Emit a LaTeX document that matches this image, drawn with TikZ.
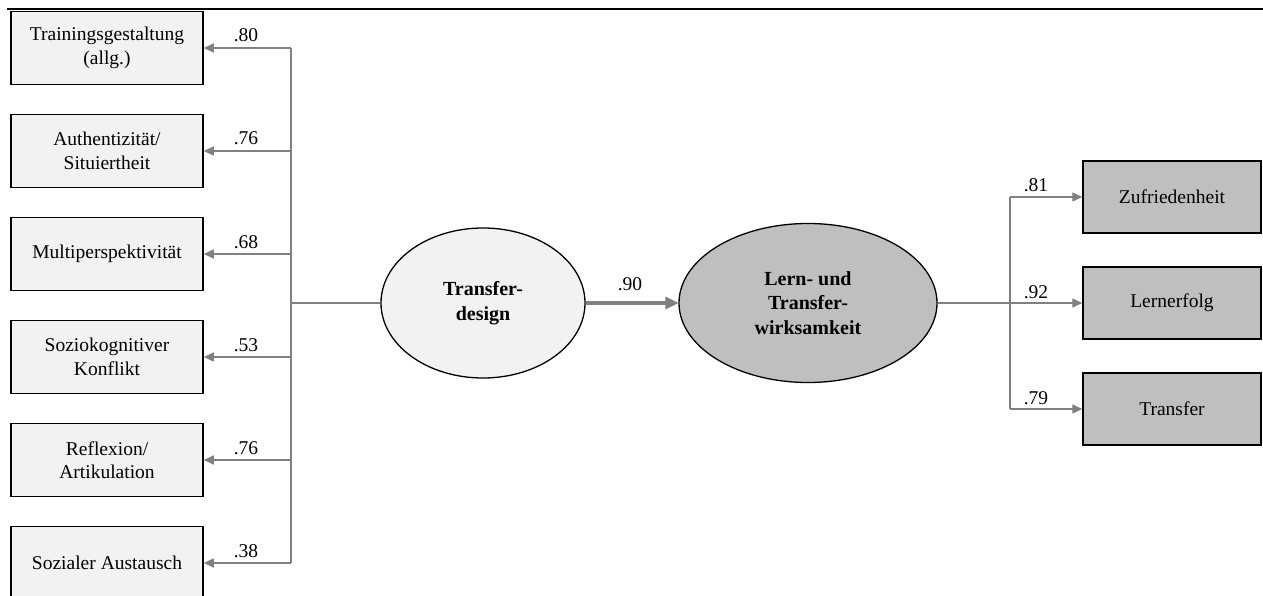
\documentclass[tikz,border=0pt]{standalone}
\usepackage{fontspec}
\setmainfont{Liberation Serif}
\usetikzlibrary{shapes.geometric,arrows.meta}
\definecolor{lightbox}{HTML}{F2F2F2}
\definecolor{darkbox}{HTML}{BFBFBF}
\definecolor{linkgray}{HTML}{808080}
\begin{document}
\begin{tikzpicture}[x=1pt,y=-1pt,
  txt/.style={font=\fontsize{19.5}{23.5}\selectfont},
  indicator/.style={txt,draw=black,line width=1.5pt,rectangle,align=center,inner sep=0pt},
  leftbox/.style={indicator,fill=lightbox,minimum width=192,minimum height=73},
  rightbox/.style={indicator,fill=darkbox,minimum width=178,minimum height=72},
  latent/.style={ellipse,draw=black,line width=1.3pt,align=center,inner sep=0pt,
    font=\fontsize{20}{24.5}\selectfont\bfseries},
  link/.style={draw=linkgray,line width=1.4pt},
  arr/.style={link,-{Triangle[length=10pt,width=9pt]}},
  pathline/.style={draw=linkgray,line width=4pt},
  coef/.style={txt,anchor=base,inner sep=0pt}
]
\useasboundingbox (0,0) rectangle (1263,596);

% top rule
\coordinate (ruleL) at (7,9);
\coordinate (ruleR) at (1263,9);
\draw[line width=2.4pt] (ruleL) -- (ruleR);

% indicators of the transfer design
\node[leftbox] (b1) at (107,48)  {Trainingsgestaltung\\(allg.)};
\node[leftbox] (b2) at (107,151) {Authentizität/\\Situiertheit};
\node[leftbox] (b3) at (107,254) {Multiperspektivität};
\node[leftbox] (b4) at (107,357) {Soziokognitiver\\Konflikt};
\node[leftbox] (b5) at (107,460) {Reflexion/\\Artikulation};
\node[leftbox] (b6) at (107,563) {Sozialer Austausch};

% latent variables
\node[latent,fill=lightbox,minimum width=204,minimum height=150] (td) at (483,303) {Transfer-\\design};
\node[latent,fill=darkbox,minimum width=258,minimum height=159] (lt) at (808,303) {Lern- und\\Transfer-\\wirksamkeit};

% outcome indicators
\node[rightbox] (r1) at (1172,197) {Zufriedenheit};
\node[rightbox] (r2) at (1172,303) {Lernerfolg};
\node[rightbox] (r3) at (1172,409) {Transfer};

% left spine
\coordinate (s1) at (291,48);
\coordinate (s2) at (291,151);
\coordinate (s3) at (291,254);
\coordinate (s4) at (291,357);
\coordinate (s5) at (291,460);
\coordinate (s6) at (291,563);
\coordinate (sj) at (291,303);
\draw[link] (s1) -- (s6);
\draw[link] (sj) -- (td.west);
\foreach \i in {1,...,6} \draw[arr] (s\i) -- (b\i.east);

% structural path with its wide head
\draw[pathline] (td.east) -- ([xshift=-12pt]lt.west);
\fill[linkgray] (lt.west) -- ++(-13,-6.5) -- ++(0,13) -- cycle;

% right spine
\coordinate (t1) at (1010,197);
\coordinate (t2) at (1010,303);
\coordinate (t3) at (1010,409);
\draw[link] (t1) -- (t3);
\draw[link] (lt.east) -- (t2);
\foreach \i in {1,2,3} \draw[arr] (t\i) -- (r\i.west);

% loadings
\node[coef] at (246,42)  {.80};
\node[coef] at (246,145) {.76};
\node[coef] at (246,248) {.68};
\node[coef] at (246,351) {.53};
\node[coef] at (246,454) {.76};
\node[coef] at (246,557) {.38};
\node[coef] at (630,290) {.90};
\node[coef] at (1036,192) {.81};
\node[coef] at (1036,298) {.92};
\node[coef] at (1036,404) {.79};
\end{tikzpicture}
\end{document}
